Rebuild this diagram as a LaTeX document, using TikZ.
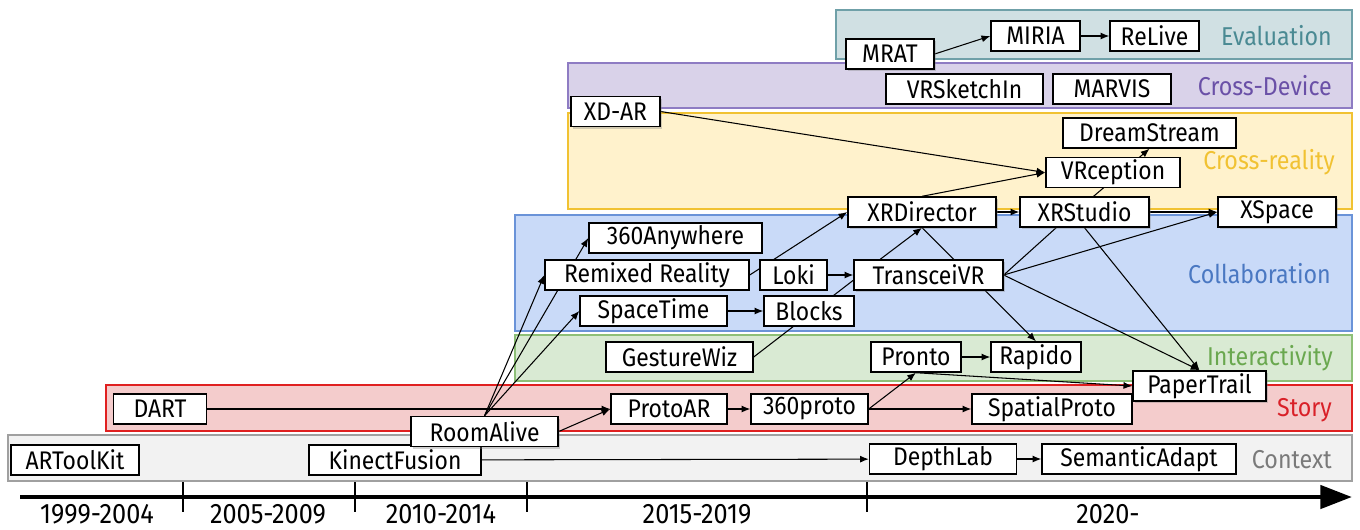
\documentclass[tikz,border=0pt]{standalone}
\usepackage{fontspec}
\setmainfont{Fira Sans}[FakeStretch=0.9]
\usetikzlibrary{arrows.meta,shadows}

\pgfdeclarelayer{lanes}
\pgfdeclarelayer{links}
\pgfsetlayers{lanes,links,main}

\definecolor{evalline}{HTML}{6FA0A8}
\definecolor{evalfill}{HTML}{D0E0E3}
\definecolor{evaltext}{HTML}{4A8A93}
\definecolor{devline}{HTML}{8E7CC3}
\definecolor{devfill}{HTML}{D9D2E9}
\definecolor{devtext}{HTML}{6A50A7}
\definecolor{xrline}{HTML}{F1C232}
\definecolor{xrfill}{HTML}{FFF2CC}
\definecolor{xrtext}{HTML}{F1C232}
\definecolor{collabline}{HTML}{6A93D8}
\definecolor{collabfill}{HTML}{C9DAF8}
\definecolor{collabtext}{HTML}{4A78C2}
\definecolor{interline}{HTML}{8DBF77}
\definecolor{interfill}{HTML}{D9EAD3}
\definecolor{intertext}{HTML}{6AA84F}
\definecolor{storyline}{HTML}{E02020}
\definecolor{storyfill}{HTML}{F4CCCC}
\definecolor{storytext}{HTML}{D92028}
\definecolor{ctxline}{HTML}{A0A0A0}
\definecolor{ctxfill}{HTML}{F2F2F2}
\definecolor{ctxtext}{HTML}{7A7A7A}

\tikzset{
	paper/.style = {draw, fill = white, line width = 0.8pt, inner sep = 0pt,
		minimum height = 0.6cm, font = \fontsize{14.5}{14.5}\selectfont},
	bw/.style = {minimum width = #1*0.02cm},
	lifted/.style = {drop shadow = {shadow xshift = 1.2pt, shadow yshift = -1.2pt, opacity = 0.35}},
	link/.style = {line width = 0.6pt, -{Latex[length = 5pt, width = 4pt]}},
	tie/.style = {line width = 0.6pt},
	lane/.style = {draw = #1line, fill = #1fill, line width = 0.7pt},
	lanename/.style = {anchor = east, text = #1text, font = \fontsize{14.7}{14.7}\selectfont},
	period/.style = {inner sep = 0pt, font = \fontsize{16}{16}\selectfont}
}

\begin{document}
\begin{tikzpicture}[x = 0.02cm, y = -0.02cm]
	\useasboundingbox (0, 0) rectangle (1360, 529);

	% research areas
	\begin{pgfonlayer}{lanes}
	\draw[lane = eval] (836, 10) rectangle (1352, 59);
	\draw[lane = dev] (568, 63) rectangle (1352, 108);
	\draw[lane = xr] (568, 113) rectangle (1352, 209);
	\draw[lane = collab] (515, 215) rectangle (1352, 331);
	\draw[lane = inter] (515, 335) rectangle (1352, 381);
	\draw[lane = story] (106, 385) rectangle (1352, 431);
	\draw[lane = ctx] (8, 435) rectangle (1352, 481);
	\end{pgfonlayer}
	\node[lanename = eval] (evalname) at (1338, 36) {Evaluation};
	\node[lanename = dev] (devname) at (1338, 86) {Cross-Device};
	\node[lanename = xr] (xrname) at (1341, 162) {Cross-reality};
	\node[lanename = collab] (collabname) at (1337, 274) {Collaboration};
	\node[lanename = inter] (intername) at (1339, 358) {Interactivity};
	\node[lanename = story] (storyname) at (1338, 410) {Story};
	\node[lanename = ctx] (ctxname) at (1338, 460) {Context};

	% time axis
	\draw[line width = 2.8pt, -{Triangle[length = 18pt, width = 13pt]}] (20, 497) -- (1352, 497);
	\foreach \t in {183, 355, 527, 867}
	\draw[line width = 1.2pt] (\t, 482) -- (\t, 512);
	\foreach \x/\p in {97/1999-2004, 268/2005-2009, 441/2010-2014, 697/2015-2019, 1108/2020-}
	\node[period] (p\x) at (\x, 514) {\p};

	% context
	\node[paper, bw = 128] (artoolkit) at (75, 460) {ARToolKit};
	\node[paper, bw = 172] (kinectfusion) at (395, 460) {KinectFusion};
	\node[paper, bw = 147] (depthlab) at (943, 459) {DepthLab};
	\node[paper, bw = 194] (semanticadapt) at (1139, 459) {SemanticAdapt};

	% story
	\node[paper, bw = 93] (dart) at (160, 409) {DART};
	\node[paper, bw = 147, lifted] (roomalive) at (484.5, 431.5) {RoomAlive};
	\node[paper, bw = 116] (protoar) at (669, 409) {ProtoAR};
	\node[paper, bw = 117] (proto360) at (809.5, 409) {360proto};
	\node[paper, bw = 160] (spatialproto) at (1052, 409) {SpatialProto};
	\node[paper, bw = 133, lifted] (papertrail) at (1199.5, 386) {PaperTrail};

	% interactivity
	\node[paper, bw = 147] (gesturewiz) at (679.5, 357) {GestureWiz};
	\node[paper, bw = 90] (pronto) at (916, 357) {Pronto};
	\node[paper, bw = 90] (rapido) at (1036, 357) {Rapido};

	% collaboration
	\node[paper, bw = 173] (anywhere360) at (675.5, 238) {360Anywhere};
	\node[paper, bw = 204] (remixed) at (647, 275) {Remixed Reality};
	\node[paper, bw = 67] (loki) at (793.5, 275) {Loki};
	\node[paper, bw = 147] (spacetime) at (653.5, 311) {SpaceTime};
	\node[paper, bw = 90] (blocks) at (809, 311) {Blocks};
	\node[paper, bw = 149, lifted] (transceivr) at (928.5, 275) {TransceiVR};
	\node[paper, bw = 148, lifted] (xrdirector) at (922, 212) {XRDirector};
	\node[paper, bw = 129, lifted] (xrstudio) at (1084.5, 212) {XRStudio};
	\node[paper, bw = 118, lifted] (xspace) at (1277, 212) {XSpace};

	% cross-reality
	\node[paper, bw = 173] (dreamstream) at (1149.5, 133) {DreamStream};
	\node[paper, bw = 134] (vrception) at (1113, 172.5) {VRception};
	\node[paper, bw = 89, lifted] (xdar) at (615.5, 111.5) {XD-AR};

	% cross-device
	\node[paper, bw = 157] (vrsketchin) at (964.5, 89) {VRSketchIn};
	\node[paper, bw = 118] (marvis) at (1112, 89) {MARVIS};

	% evaluation
	\node[paper, bw = 88, lifted] (mrat) at (890, 54) {MRAT};
	\node[paper, bw = 89] (miria) at (1035.5, 36) {MIRIA};
	\node[paper, bw = 89] (relive) at (1154.5, 36) {ReLive};

	% lineage
	\begin{pgfonlayer}{links}
	\draw[link] (kinectfusion) -- (depthlab);
	\draw[link] (depthlab) -- (semanticadapt);
	\draw[link] (dart) -- (protoar);
	\draw[link] (roomalive.east) -- (protoar.west);
	\draw[link] (roomalive.north) -- (remixed.west);
	\draw[link] (roomalive.north) -- (anywhere360.west);
	\draw[link] (roomalive.north) -- (spacetime.west);
	\draw[link] (protoar) -- (proto360);
	\draw[link] (proto360) -- (spatialproto);
	\draw[link] (proto360.east) -- (pronto.south);
	\draw[link] (pronto.south) -- (papertrail.west);
	\draw[link] (pronto) -- (rapido);
	\draw[link] (spacetime) -- (blocks);
	\draw[link] (loki) -- (transceivr);
	\draw[tie] (gesturewiz.east) -- (transceivr.184);
	\draw[link] (remixed.east) -- (xrdirector.west);
	\draw[link] (transceivr.162) -- (xrdirector.south);
	\draw[link] (xrdirector.south) -- (rapido.north);
	\draw[link] (xrdirector.north) -- (vrception.west);
	\draw[link] (xdar.east) -- (vrception.west);
	\draw[link] (xrdirector) -- (xrstudio);
	\draw[link] (xrstudio.60) -- (dreamstream.south);
	\draw[link] (xrstudio) -- (xspace);
	\draw[link] (transceivr.east) -- (xspace.west);
	\draw[tie] (xrstudio.209) -- (transceivr.east);
	\draw[link] (transceivr.east) -- (papertrail.north);
	\draw[link] (xrstudio.south) -- (papertrail.north);
	\draw[link] (mrat.east) -- (miria.west);
	\draw[link] (miria) -- (relive);
	\end{pgfonlayer}
\end{tikzpicture}
\end{document}
